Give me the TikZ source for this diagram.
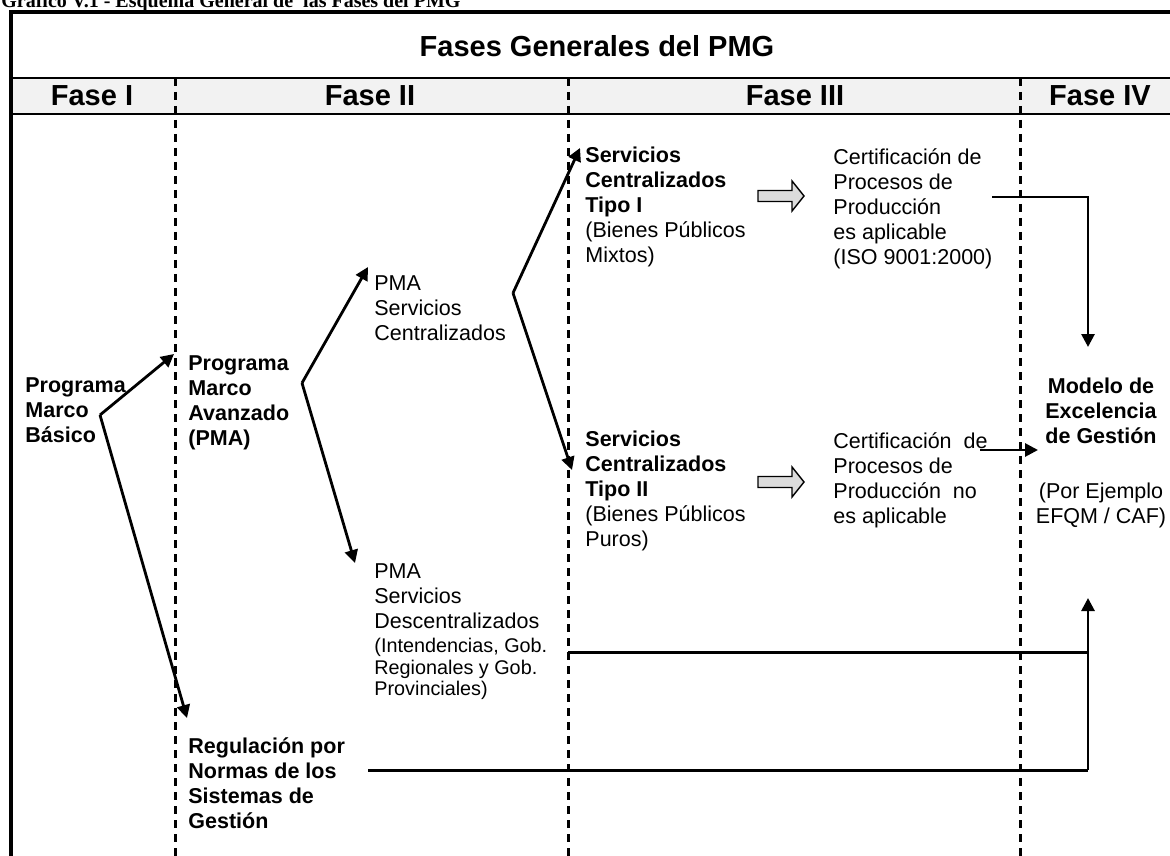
\documentclass[tikz,border=0pt]{standalone}
\usepackage{fontspec}
\setmainfont{Liberation Sans}
\newfontfamily\serifbf{Liberation Serif}
\usetikzlibrary{arrows.meta}
\definecolor{hdrgray}{HTML}{F2F2F2}
\definecolor{blockgray}{HTML}{DCDCDC}
\begin{document}
\begin{tikzpicture}[x=0.5pt,y=-0.5pt,
  txt/.style={anchor=north west, inner sep=0pt, align=left, font=\fontsize{10.75}{12.5}\selectfont},
  btxt/.style={txt, font=\bfseries\fontsize{10.75}{12.5}\selectfont},
  stxt/.style={txt, font=\fontsize{9.9}{10.75}\selectfont},
  hdr/.style={inner sep=0pt, font=\bfseries\fontsize{14.5}{17}\selectfont},
  divider/.style={line width=1.5pt, dash pattern=on 4pt off 3pt},
  arr/.style={line width=1.4pt, -{Triangle[length=6.5pt,width=6.5pt]}},
  conn/.style={line width=1.5pt},
  blockarrow/.style={fill=blockgray, draw=black, line width=0.7pt}]
\useasboundingbox (0,0) rectangle (1170,855);
% caption
\node[anchor=base west, inner sep=0pt, font=\serifbf\bfseries\fontsize{10}{12}\selectfont] (title) at (1,8) {Gráfico V.1 - Esquema General de~ las Fases del PMG};
% frame
\fill[hdrgray] (10.5,78) rectangle (1172,114);
\draw[line width=1.25pt] (10.5,78) -- (1172,78);
\draw[line width=1.25pt] (10.5,114) -- (1172,114);
\draw[line width=2pt] (9,12.5) -- (1172,12.5);
\draw[line width=2pt] (10.5,11) -- (10.5,860);
% dividers
\draw[divider] (175,78) -- (175,860);
\draw[divider] (568,78) -- (568,860);
\draw[divider] (1020,78) -- (1020,860);
% headers
\node[hdr] (hmain) at (597,46) {Fases Generales del PMG};
\node[hdr] (h1) at (92,96) {Fase I};
\node[hdr] (h2) at (370,96) {Fase II};
\node[hdr] (h3) at (795,96) {Fase III};
\node[hdr] (h4) at (1100,96) {Fase IV};
% texts
\node[btxt] (pmb) at (25,377) {Programa\\Marco\\Básico};
\node[btxt] (pma) at (188,355) {Programa\\Marco\\Avanzado\\(PMA)};
\node[txt] (pmacen) at (374,275) {PMA\\Servicios\\Centralizados};
\node[txt] (pmadesc) at (374,563) {PMA\\Servicios\\Descentralizados};
\node[stxt] (pmanote) at (374,638) {(Intendencias, Gob.\\Regionales y Gob.\\Provinciales)};
\node[txt] (sc1) at (585,147) {\textbf{Servicios}\\\textbf{Centralizados}\\\textbf{Tipo I}\\(Bienes Públicos\\Mixtos)};
\node[txt] (sc2) at (585,431) {\textbf{Servicios}\\\textbf{Centralizados}\\\textbf{Tipo II}\\(Bienes Públicos\\Puros)};
\node[txt] (cert1) at (833,148) {Certificación de\\Procesos de\\Producción\\es aplicable\\(ISO 9001:2000)};
\node[txt] (cert2) at (833,432) {Certificación~ de\\Procesos de\\Producción~ no\\es aplicable};
\node[txt, anchor=north, align=center] (modelo) at (1101,378) {\textbf{Modelo de}\\\textbf{Excelencia}\\\textbf{de Gestión}\\[15pt](Por Ejemplo\\EFQM / CAF)};
\node[btxt] (regul) at (188,737) {Regulación por\\Normas de los\\Sistemas de\\Gestión};
% branch points and ends
\coordinate (j1) at (100,415);
\coordinate (j2) at (302,383);
\coordinate (j3) at (513,293);
\coordinate (tpma) at (174,354);
\coordinate (treg) at (187,718);
\coordinate (tcen) at (368,267);
\coordinate (tdes) at (355,563);
\coordinate (tsc1) at (580,148);
\coordinate (tsc2) at (572,470);
\coordinate (c1s) at (992,197);
\coordinate (c1e) at (1088,347);
\coordinate (c2s) at (980,450);
\coordinate (c2e) at (1038,450);
\coordinate (d1) at (568,652);
\coordinate (d2) at (368,770);
\coordinate (vb) at (1088,770);
\coordinate (vt) at (1088,598);
% arrows
\draw[arr] (j1) -- (tpma);
\draw[arr] (j1) -- (treg);
\draw[arr] (j2) -- (tcen);
\draw[arr] (j2) -- (tdes);
\draw[arr] (j3) -- (tsc1);
\draw[arr] (j3) -- (tsc2);
\draw[arr] (c1s) -| (c1e);
\draw[arr] (c2s) -- (c2e);
\draw[conn] (d1) -- (d1 -| vb);
\draw[conn] (d2) -- (vb);
\draw[arr] (vb) -- (vt);
% block arrows
\draw[blockarrow] (758,190.5) -- (792,190.5) -- (792,181) -- (804,196) -- (792,211) -- (792,201.5) -- (758,201.5) -- cycle;
\draw[blockarrow] (758,476.5) -- (792,476.5) -- (792,467) -- (804,482) -- (792,497) -- (792,487.5) -- (758,487.5) -- cycle;
\end{tikzpicture}
\end{document}
